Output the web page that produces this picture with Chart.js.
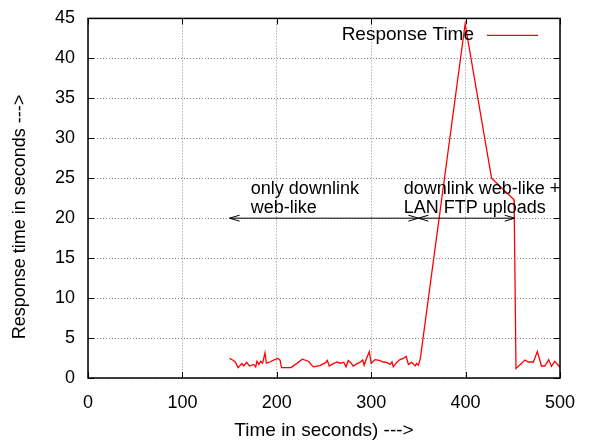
<!DOCTYPE html>
<html>
<head>
<meta charset="utf-8">
<script src="https://cdn.jsdelivr.net/npm/chart.js@4"></script>
<style>
  html, body { margin: 0; padding: 0; background: #fff; }
  #wrap { width: 592px; height: 440px; }
</style>
</head>
<body>
<div id="wrap"><canvas id="rt" width="592" height="440"></canvas></div>
<script>
// Response time samples (seconds) over the run
const times = [150, 154, 156, 159, 163, 165, 168, 171, 175.5, 177.6, 179, 181, 183, 185, 187.5, 189,
  192.5, 197.8, 201.6, 203.5, 205, 208.5, 215, 221, 227, 233.5, 238.7, 245.7, 252, 253.5, 255.6,
  259.8, 264, 267.6, 271, 273.3, 275.7, 278, 281, 285, 288, 291, 292.5, 295, 298, 300, 301.6, 304,
  308.6, 312.9, 316.4, 320, 322, 323.4, 327, 330.4, 334, 337, 339.4, 343, 346.5, 348, 350, 352,
  399.5, 427.5, 451.3, 451.6, 453.4, 463, 466.5, 471.8, 476, 480.4, 484, 488, 491, 494.5, 500];
const responseTimes = [2.45, 2.2, 2.0, 1.3, 1.8, 1.5, 1.95, 1.5, 1.7, 1.4, 2.1, 1.7, 2.1, 1.85, 3.15, 1.85,
  2.0, 2.3, 2.45, 2.2, 1.3, 1.3, 1.3, 1.8, 2.35, 2.1, 1.4, 1.55, 1.95, 2.2, 1.5,
  1.8, 2.0, 1.85, 1.95, 1.4, 2.2, 1.95, 1.5, 1.8, 1.95, 2.25, 1.6, 2.45, 3.3, 1.85, 2.0, 2.3,
  2.2, 2.0, 1.95, 1.7, 2.0, 1.4, 1.95, 2.3, 2.45, 2.7, 1.7, 1.95, 1.5, 1.8, 1.6, 2.4,
  44.3, 25.0, 22.3, 20.0, 1.2, 2.25, 2.0, 2.0, 3.3, 1.5, 1.5, 2.3, 1.45, 2.1, 1.35];

const xTicks = [0, 100, 200, 300, 400, 500];
const yTicks = [0, 5, 10, 15, 20, 25, 30, 35, 40, 45];

// phase annotations: label lines, text anchor, arrow span at y = 20
const phases = [
  { lines: ['only downlink', 'web-like'], textX: 172.5, textY: 23.6, from: 150, to: 350 },
  { lines: ['downlink web-like +', 'LAN FTP uploads'], textX: 334.5, textY: 23.6, from: 350, to: 452 }
];
const arrowY = 20;

const FONT = '"Liberation Sans", Arial, Helvetica, sans-serif';
Chart.defaults.font.family = FONT;
Chart.defaults.font.size = 18;
Chart.defaults.color = '#000';

function arrowHead(ctx, x, y, dir) {
  ctx.beginPath();
  ctx.moveTo(x - dir * 10, y - 3);
  ctx.lineTo(x, y);
  ctx.lineTo(x - dir * 10, y + 3);
  ctx.stroke();
}

const gnuplotFrame = {
  id: 'gnuplotFrame',
  afterDatasetsDraw(chart) {
    const { ctx, chartArea: a, scales: { x, y } } = chart;
    ctx.save();
    ctx.strokeStyle = '#000';
    ctx.lineWidth = 1;
    ctx.setLineDash([]);

    // inward tick marks on all four sides
    ctx.beginPath();
    xTicks.forEach(v => {
      const px = Math.round(x.getPixelForValue(v)) + 0.5;
      ctx.moveTo(px, a.bottom); ctx.lineTo(px, a.bottom - 6);
      ctx.moveTo(px, a.top); ctx.lineTo(px, a.top + 6);
    });
    yTicks.forEach(v => {
      const py = Math.round(y.getPixelForValue(v)) + 0.5;
      ctx.moveTo(a.left, py); ctx.lineTo(a.left + 6, py);
      ctx.moveTo(a.right, py); ctx.lineTo(a.right - 6, py);
    });
    ctx.stroke();

    // frame
    ctx.lineWidth = 1.5;
    ctx.strokeRect(a.left, a.top, a.right - a.left, a.bottom - a.top);

    // phase arrows and labels
    ctx.lineWidth = 1;
    ctx.font = '18px ' + FONT;
    ctx.fillStyle = '#000';
    ctx.textAlign = 'left';
    ctx.textBaseline = 'middle';
    const ay = y.getPixelForValue(arrowY);
    phases.forEach(p => {
      const x0 = x.getPixelForValue(p.from), x1 = x.getPixelForValue(p.to);
      ctx.beginPath();
      ctx.moveTo(x0, ay); ctx.lineTo(x1, ay);
      ctx.stroke();
      arrowHead(ctx, x0, ay, -1);
      arrowHead(ctx, x1, ay, 1);
      const tx = x.getPixelForValue(p.textX);
      const ty = y.getPixelForValue(p.textY);
      p.lines.forEach((l, i) => ctx.fillText(l, tx, ty + i * 19));
    });

    // key in the top right corner
    const ds = chart.data.datasets[0];
    const ky = a.top + 16;
    ctx.font = '19px ' + FONT;
    ctx.textAlign = 'right';
    ctx.fillText(ds.label, a.right - 86, ky);
    ctx.strokeStyle = ds.borderColor;
    ctx.lineWidth = ds.borderWidth;
    ctx.beginPath();
    ctx.moveTo(a.right - 73, ky + 1);
    ctx.lineTo(a.right - 22, ky + 1);
    ctx.stroke();

    // y axis title
    ctx.font = '18px ' + FONT;
    ctx.fillStyle = '#000';
    ctx.textAlign = 'center';
    ctx.translate(20, 217);
    ctx.rotate(-Math.PI / 2);
    ctx.fillText('Response time in seconds --->', 0, 0);
    ctx.restore();
  }
};

new Chart(document.getElementById('rt'), {
  type: 'line',
  data: {
    datasets: [{
      label: 'Response Time',
      data: times.map((t, i) => ({ x: t, y: responseTimes[i] })),
      borderColor: '#ff0000',
      borderWidth: 1.3,
      pointRadius: 0,
      tension: 0,
      fill: false
    }]
  },
  options: {
    responsive: false,
    animation: false,
    layout: { padding: { top: 12.5, right: 32, left: 0, bottom: 0 } },
    plugins: {
      legend: { display: false },
      tooltip: { enabled: false }
    },
    scales: {
      x: {
        type: 'linear',
        min: 0,
        max: 500,
        afterFit: s => { s.height = 62; },
        afterBuildTicks: s => { s.ticks = xTicks.map(v => ({ value: v })); },
        ticks: { padding: 14, maxRotation: 0 },
        grid: { color: '#8a8a8a', lineWidth: 1, drawTicks: false },
        border: { display: false, dash: [1, 2] },
        title: {
          display: true,
          text: 'Time in seconds) --->',
          font: { size: 19, lineHeight: 1.0 },
          padding: { top: 0, bottom: 0 }
        }
      },
      y: {
        min: 0,
        max: 45,
        afterFit: s => { s.width = 88; },
        afterBuildTicks: s => { s.ticks = yTicks.map(v => ({ value: v })); },
        ticks: { padding: 13, font: { lineHeight: 0.6 } },
        grid: { color: '#8a8a8a', lineWidth: 1, drawTicks: false },
        border: { display: false, dash: [1, 2] }
      }
    }
  },
  plugins: [gnuplotFrame]
});
</script>
</body>
</html>
